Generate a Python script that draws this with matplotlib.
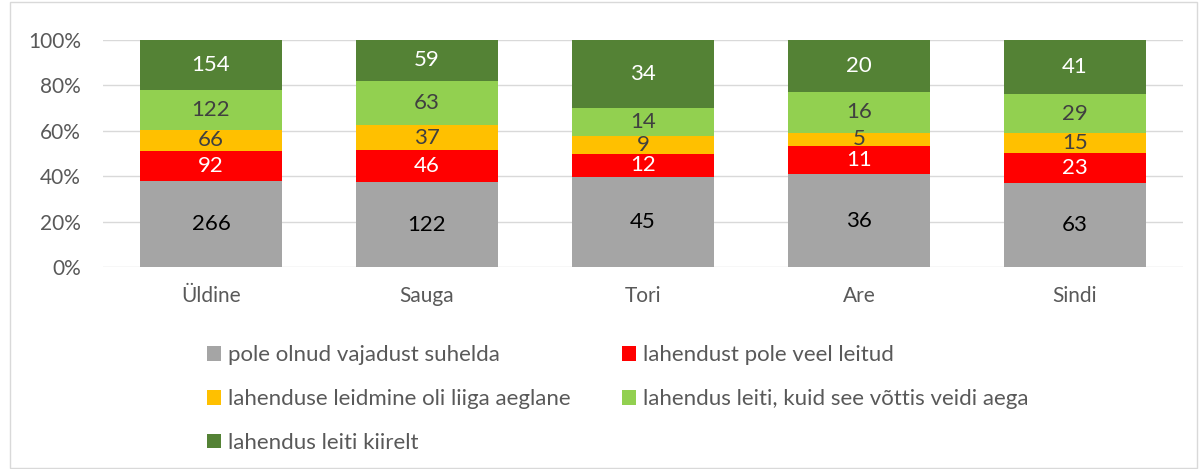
import matplotlib.pyplot as plt
import numpy as np
from matplotlib.patches import Rectangle, Patch

plt.rcParams['font.family'] = ['Lato', 'DejaVu Sans']

categories = ["Üldine", "Sauga", "Tori", "Are", "Sindi"]
series_names = [
    "pole olnud vajadust suhelda",
    "lahendust pole veel leitud",
    "lahenduse leidmine oli liiga aeglane",
    "lahendus leiti, kuid see võttis veidi aega",
    "lahendus leiti kiirelt",
]
pole_vaja = [266, 122, 45, 36, 63]
pole_leitud = [92, 46, 12, 11, 23]
aeglane = [66, 37, 9, 5, 15]
veidi_aega = [122, 63, 14, 16, 29]
kiirelt = [154, 59, 34, 20, 41]

colors = ["#A5A5A5", "#FF0000", "#FFC000", "#92D050", "#548235"]
label_colors = ["#000000", "#FFFFFF", "#404040", "#404040", "#FFFFFF"]
text_gray = "#595959"

data = np.array([pole_vaja, pole_leitud, aeglane, veidi_aega, kiirelt], dtype=float)
totals = data.sum(axis=0)
shares = data / totals

fig = plt.figure(figsize=(11.99, 4.69), dpi=100)
ax = fig.add_axes([103 / 1199, 1 - 267 / 469, 1080 / 1199, 227 / 469])

x = np.arange(len(categories))
bottom = np.zeros(len(categories))
for i, name in enumerate(series_names):
    ax.bar(x, shares[i], width=0.66, bottom=bottom, color=colors[i], label=name, zorder=2)
    for j in range(len(categories)):
        ax.text(x[j], bottom[j] + shares[i][j] / 2, f"{int(data[i][j])}",
                ha="center", va="center", fontsize=16, color=label_colors[i], zorder=3)
    bottom += shares[i]

ax.set_xlim(-0.5, len(categories) - 0.5)
ax.set_ylim(0, 1)
ax.set_yticks(np.arange(0, 1.01, 0.2))
ax.set_yticklabels([f"{int(round(v * 100))}%" for v in np.arange(0, 1.01, 0.2)])
ax.set_xticks(x)
ax.set_xticklabels(categories)
ax.tick_params(axis="both", length=0, labelsize=15, colors=text_gray)
ax.tick_params(axis="y", pad=16)
ax.tick_params(axis="x", pad=14)
ax.grid(axis="y", color="#D9D9D9", linewidth=1, zorder=0)
for s in ax.spines.values():
    s.set_visible(False)

# legend fills row by row in the reference
order = [0, 2, 4, 1, 3]
handles = [Patch(facecolor=colors[k]) for k in order]
labels = [series_names[k] for k in order]
fig.legend(handles, labels, loc="upper left", bbox_to_anchor=(198 / 1199, 1 - 336 / 469),
           ncol=2, frameon=False, fontsize=16, labelcolor=text_gray,
           handlelength=0.65, handleheight=0.65, handletextpad=0.3,
           columnspacing=2.3, labelspacing=1.08, borderaxespad=0)

fig.patches.append(Rectangle((10 / 1199, 1 / 469), 1 - 12 / 1199, 1 - 3 / 469,
                             transform=fig.transFigure, fill=False,
                             edgecolor="#D9D9D9", linewidth=1))

fig.savefig("out.png", dpi=100)
